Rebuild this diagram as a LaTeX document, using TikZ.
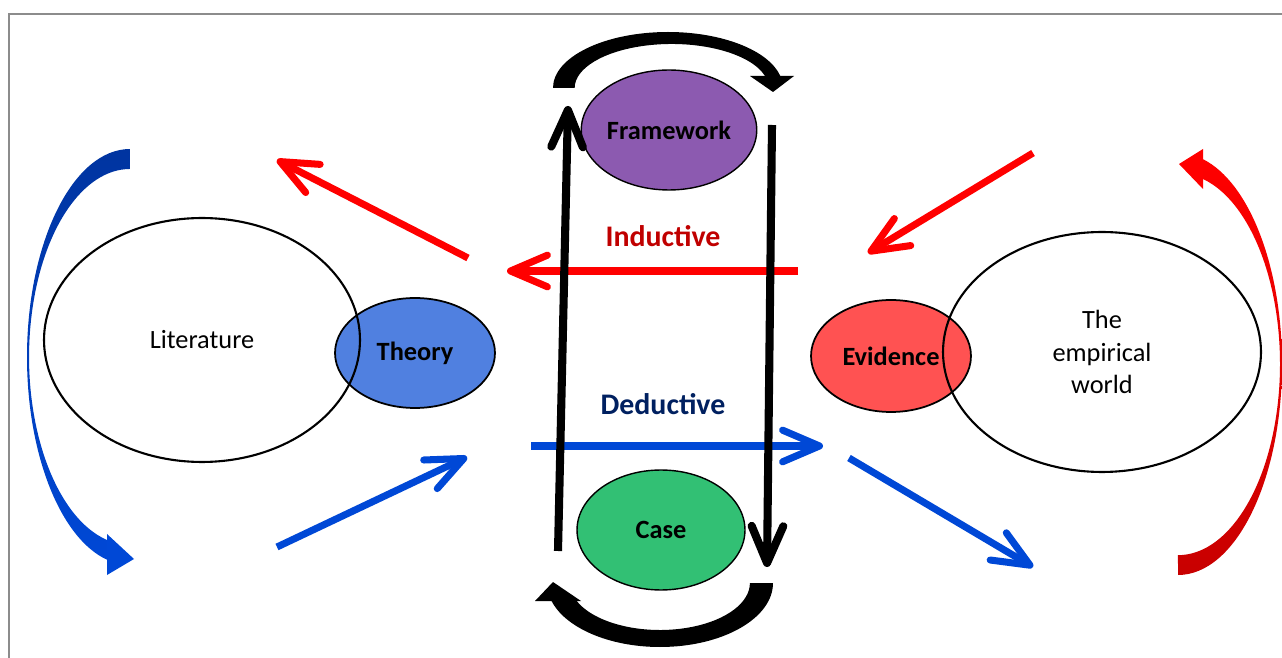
\documentclass[tikz,border=0pt]{standalone}
\usepackage{fontspec}
\setmainfont{Carlito}
\usepackage{tikz}
\usetikzlibrary{arrows.meta, shapes.geometric}
\definecolor{lineblue}{RGB}{0,72,214}
\definecolor{deepblue}{RGB}{0,52,160}
\definecolor{linered}{RGB}{255,0,0}
\definecolor{deepred}{RGB}{200,0,0}
\definecolor{labelred}{RGB}{192,0,0}
\definecolor{labelnavy}{RGB}{0,32,96}
\definecolor{theoryblue}{RGB}{80,128,224}
\definecolor{frameviolet}{RGB}{140,90,176}
\definecolor{casegreen}{RGB}{50,192,116}
\definecolor{evidred}{RGB}{255,82,82}
\definecolor{slidegray}{RGB}{140,140,140}
\tikzset{>=stealth}
\tikzset{
  bubble/.style={ellipse, draw=black, line width=1pt, inner sep=0pt, font=\fontsize{15}{18}\selectfont\bfseries},
  field/.style={ellipse, draw=black, line width=1.2pt, inner sep=0pt, align=center, font=\fontsize{15}{18.5}\selectfont},
  flow/.style={line width=4pt, -{Straight Barb[length=21pt, width=18pt, round]}},
  tag/.style={font=\fontsize{17}{20}\selectfont\bfseries},
}

\begin{document}
\begin{tikzpicture}[x=0.02cm, y=-0.02cm]
    \useasboundingbox (0,0) rectangle (1282,658);
    \draw[slidegray, line width=1.1pt] (9,700) -- (9,14) -- (1300,14);

    % the two sides
    \node[bubble, fill=theoryblue, minimum width=3.2cm, minimum height=2.2cm] (theory) at (415,353) {Theory};
    \node[field, minimum width=6.32cm, minimum height=4.88cm] (lit) at (202,340) {Literature};
    \node[bubble, fill=evidred, minimum width=3.2cm, minimum height=2.24cm] (evid) at (891,356) {Evidence};
    \node[field, minimum width=6.36cm, minimum height=4.8cm] (world) at (1102,352) {The\\empirical\\world};

    % the middle
    \node[bubble, fill=frameviolet, line width=0.8pt, minimum width=3.36cm, minimum height=2.4cm] (frame) at (669,130) {Framework};
    \node[bubble, fill=casegreen, line width=0.8pt, minimum width=3.36cm, minimum height=2.4cm] (case) at (661,530) {Case};
    \node[tag, text=labelred] (ind) at (663,236) {Inductive};
    \node[tag, text=labelnavy] (ded) at (663,404) {Deductive};

    % straight arrows
    \coordinate (indtail) at (798,271);   \coordinate (indhead) at (507,271);
    \coordinate (littail) at (468,258);   \coordinate (lithead) at (277,160);
    \coordinate (wldtail) at (1033,153);  \coordinate (wldhead) at (868,253);
    \coordinate (dedtail) at (531,446);   \coordinate (dedhead) at (823,446);
    \coordinate (thytail) at (277,547);   \coordinate (thyhead) at (467,457);
    \coordinate (evdtail) at (849,458);   \coordinate (evdhead) at (1033,567);
    \coordinate (uptail) at (558,551);    \coordinate (uphead) at (568,106);
    \coordinate (dntail) at (772,125);    \coordinate (dnhead) at (767,567);
    \draw[flow, linered] (indtail) -- (indhead);
    \draw[flow, linered] (littail) -- (lithead);
    \draw[flow, linered] (wldtail) -- (wldhead);
    \draw[flow, lineblue] (dedtail) -- (dedhead);
    \draw[flow, lineblue] (thytail) -- (thyhead);
    \draw[flow, lineblue] (evdtail) -- (evdhead);
    \draw[flow, black, line width=4.6pt] (uptail) -- (uphead);
    \draw[flow, black, line width=4.6pt] (dntail) -- (dnhead);

    % curved arrows
    \shade[top color=deepblue, bottom color=lineblue] (130,149) arc[start angle=-90, end angle=-257.1, x radius=103, y radius=208]
        -- (107,540) arc[start angle=-256.8, end angle=-90, x radius=101, y radius=188] -- cycle;
    \fill[lineblue] (107,534) -- (134,559) -- (107,575) -- cycle;
    \shade[top color=linered, bottom color=deepred] (1178,575) arc[start angle=90, end angle=-76, x radius=104, y radius=211]
        -- (1203,179) arc[start angle=-75.8, end angle=90, x radius=102, y radius=191] -- cycle;
    \fill[linered] (1203,149) -- (1179,164) -- (1203,189) -- cycle;
    \fill[black] (553,88) arc[start angle=180, end angle=347.6, x radius=115, y radius=56]
        -- (765,76) arc[start angle=344.2, end angle=180, x radius=97, y radius=44] -- cycle;
    \fill[black] (750,76) -- (794,76) -- (773,92) -- cycle;
    \fill[black] (773,583) arc[start angle=0, end angle=164.6, x radius=113, y radius=64]
        -- (576,600) arc[start angle=158.8, end angle=0, x radius=90, y radius=47] -- cycle;
    \fill[black] (535,601) -- (581,601) -- (553,582) -- cycle;
\end{tikzpicture}
\end{document}
